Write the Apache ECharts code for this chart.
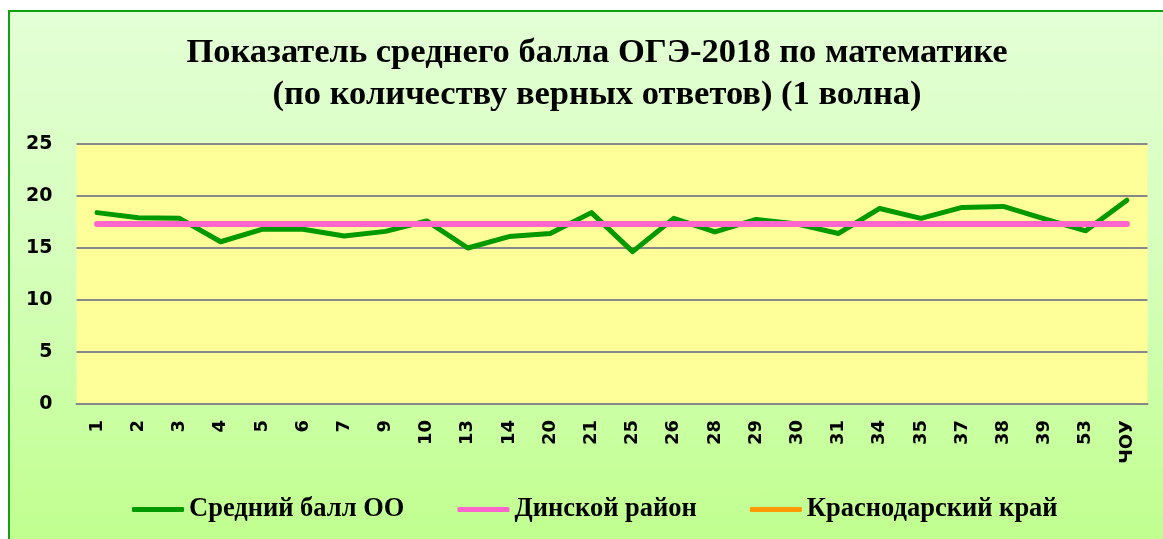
<!DOCTYPE html>
<html>
<head>
<meta charset="utf-8">
<script src="https://cdn.jsdelivr.net/npm/echarts@6/dist/echarts.min.js"></script>
<style>
  body { margin: 0; background: #fff; }
  #box {
    position: absolute; left: 8px; top: 10px; width: 1160px; height: 535px;
    border-left: 2px solid #12a012; border-top: 2px solid #12a012;
    background: linear-gradient(to bottom, #e3ffd6 0%, #d4ffb8 50%, #c0ff8e 100%);
  }
  #chart { position: absolute; left: 0; top: 0; width: 1163px; height: 539px; }
</style>
</head>
<body>
<div id="box"></div>
<div id="chart"></div>
<script>
// школы
const categories = ['1', '2', '3', '4', '5', '6', '7', '9', '10', '13', '14', '20', '21', '25',
  '26', '28', '29', '30', '31', '34', '35', '37', '38', '39', '53', 'ЧОУ'];

// средний балл ОО
const schoolAvg = [18.4, 17.9, 17.85, 15.6, 16.8, 16.8, 16.15, 16.6, 17.6, 15.0, 16.1, 16.4, 18.4,
  14.65, 17.85, 16.55, 17.75, 17.3, 16.4, 18.8, 17.85, 18.9, 19.0, 17.8, 16.65, 19.6];

// Динской район
const districtAvg = categories.map(() => 17.3);

// Краснодарский край (на графике не виден)
const regionAvg = [];

const yTicks = { min: 0, max: 25, interval: 5 };

const chart = echarts.init(document.getElementById('chart'));

const option = {
  backgroundColor: 'transparent',
  animation: false,
  title: {
    text: 'Показатель среднего балла ОГЭ-2018 по математике\n(по количеству верных ответов) (1 волна)',
    left: 592,
    top: 27,
    textAlign: 'center',
    textStyle: {
      fontFamily: 'Liberation Serif',
      fontWeight: 'bold',
      fontSize: 34.5,
      lineHeight: 42,
      color: '#000'
    }
  },
  grid: {
    left: 76.5,
    right: 15.5,
    top: 144,
    bottom: 135,
    show: true,
    backgroundColor: '#ffff99',
    borderWidth: 0
  },
  legend: {
    bottom: 11,
    left: 127,
    itemWidth: 52,
    itemHeight: 5,
    itemGap: 53,
    icon: 'roundRect',
    textStyle: {
      fontFamily: 'Liberation Serif',
      fontWeight: 'bold',
      fontSize: 26.5,
      color: '#000'
    },
    data: ['Средний балл ОО', 'Динской район', 'Краснодарский край']
  },
  xAxis: {
    type: 'category',
    data: categories,
    boundaryGap: true,
    axisTick: { show: false },
    axisLine: { lineStyle: { color: '#888', width: 2 } },
    axisLabel: {
      rotate: 90,
      interval: 0,
      margin: 16,
      fontFamily: 'DejaVu Sans',
      fontWeight: 'bold',
      fontSize: 18,
      color: '#000'
    }
  },
  yAxis: {
    type: 'value',
    min: yTicks.min,
    max: yTicks.max,
    interval: yTicks.interval,
    axisLine: { show: false },
    axisTick: { show: false },
    splitLine: { lineStyle: { color: '#888', width: 2 } },
    axisLabel: {
      margin: 24,
      fontFamily: 'DejaVu Sans',
      fontWeight: 'bold',
      fontSize: 19,
      color: '#000'
    }
  },
  series: [
    {
      name: 'Краснодарский край',
      type: 'line',
      data: regionAvg,
      symbol: 'none',
      color: '#ff9900',
      lineStyle: { width: 5, cap: 'round' }
    },
    {
      name: 'Средний балл ОО',
      type: 'line',
      data: schoolAvg,
      symbol: 'none',
      color: '#009900',
      lineStyle: { width: 5, cap: 'round', join: 'round' },
      z: 3
    },
    {
      name: 'Динской район',
      type: 'line',
      data: districtAvg,
      symbol: 'none',
      color: '#ff66cc',
      lineStyle: { width: 6, cap: 'round' },
      z: 4
    }
  ]
};

chart.setOption(option);
</script>
</body>
</html>
